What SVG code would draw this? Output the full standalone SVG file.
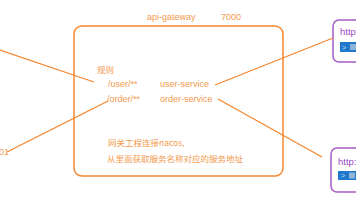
<svg xmlns="http://www.w3.org/2000/svg" width="356" height="200" viewBox="0 0 356 200">
<style>
.t{font-family:"Liberation Sans","Noto Sans CJK SC",sans-serif;font-size:9px;fill:#F39A4E}
.c{font-family:"Noto Sans CJK SC",sans-serif;font-size:8.5px;fill:#F39A4E}
.ln{stroke:#F5862E;stroke-width:1.3;fill:none}
.box{fill:#fff;stroke:#F5862E;stroke-width:1.5}
.svc{fill:#fff;stroke:#A45CC4;stroke-width:1.5}
.h{font-family:"Liberation Sans",sans-serif;font-size:9.5px;fill:#9B4DBF}
.bar{fill:#1E78CC}
</style>
<rect width="356" height="200" fill="#fff"/>
<g id="gateway">
<rect class="box" x="74" y="26" width="209" height="150" rx="8"/>
<text class="t" x="147" y="20">api-gateway</text>
<text class="t" x="221" y="20">7000</text>
<text class="c" x="97" y="73">规则</text>
<text class="t" x="108" y="87">/user/**</text>
<text class="t" x="160" y="87">user-service</text>
<text class="t" x="107" y="102">/order/**</text>
<text class="t" x="160" y="102">order-service</text>
<text class="c" x="108" y="146">网关工程连接nacos,</text>
<text class="c" x="107" y="162">从里面获取服务名称对应的服务地址</text>
</g>
<g id="left-label">
<text class="t" x="-1" y="155">01</text>
</g>
<g id="service1">
<rect class="svc" x="333" y="20" width="40" height="42" rx="6"/>
<text class="h" x="340" y="35">http</text>
<rect class="bar" x="340" y="42" width="20" height="10"/>
<text x="342" y="50" font-family="Liberation Sans,sans-serif" font-size="7" fill="#cfe3f7">&gt;</text>
<rect x="350" y="44" width="6" height="6" fill="#8fb4d8"/>
</g>
<g id="service2">
<rect class="svc" x="331" y="148" width="40" height="44" rx="6"/>
<text class="h" x="338" y="165">http:</text>
<rect class="bar" x="338" y="171" width="22" height="9"/>
<text x="341" y="178" font-family="Liberation Sans,sans-serif" font-size="7" fill="#cfe3f7">&gt;</text>
<rect x="349" y="172.5" width="6" height="6" fill="#8fb4d8"/>
</g>
<g id="connectors">
<line class="ln" x1="0" y1="50" x2="94" y2="82"/>
<line class="ln" x1="7" y1="152" x2="108" y2="101"/>
<line class="ln" x1="215" y1="85" x2="333" y2="38"/>
<line class="ln" x1="218" y1="99" x2="322" y2="157"/>
</g>
</svg>
